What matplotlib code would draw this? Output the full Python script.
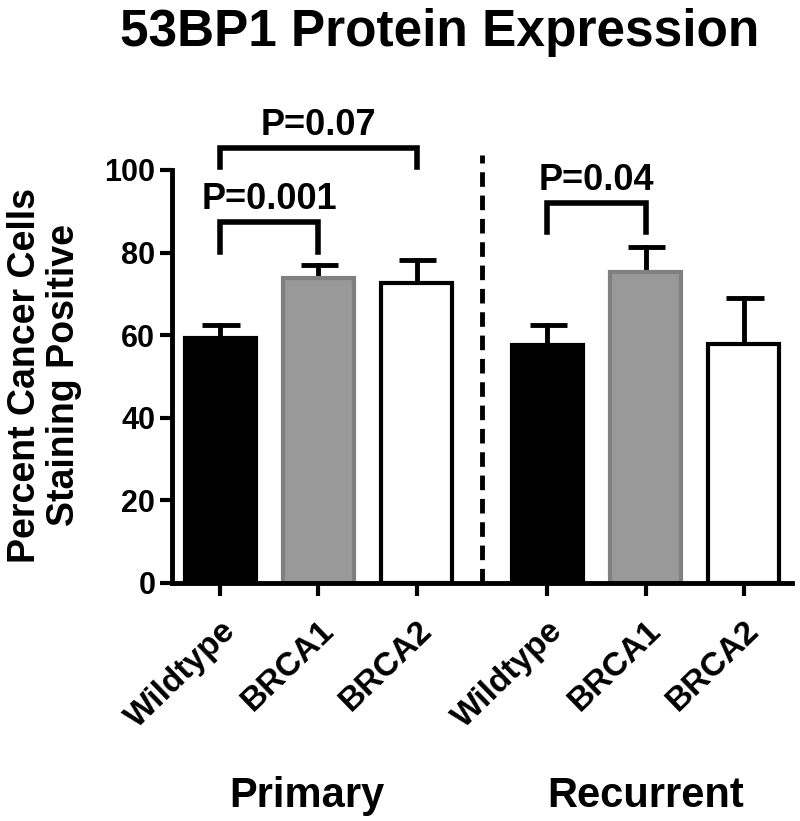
import matplotlib.pyplot as plt

plt.rcParams['font.family'] = ['Liberation Sans', 'DejaVu Sans']
plt.rcParams['font.weight'] = 'bold'

categories = ['Wildtype', 'BRCA1', 'BRCA2', 'Wildtype', 'BRCA1', 'BRCA2']
groups = ['Primary', 'Recurrent']
means = [59.4, 73.8, 72.6, 57.6, 75.4, 57.8]
errors = [3.1, 3.2, 5.6, 4.9, 6.0, 11.2]
fills = ['black', '#999999', 'white', 'black', '#999999', 'white']
edges = ['black', '#808080', 'black', 'black', '#808080', 'black']
x = [0, 1, 2, 3.33, 4.33, 5.33]

# significance brackets: (left bar, right bar, bracket height, leg bottom, label)
brackets = [(0, 1, 87.5, 80.2, 'P=0.001'),
            (0, 2, 105.3, 100.6, 'P=0.07'),
            (3, 4, 92.0, 85.0, 'P=0.04')]

fig = plt.figure(figsize=(8, 8.21), dpi=100)
ax = fig.add_axes([0.215, 0.29, 0.775, 0.503])

ax.bar(x, means, width=0.72, color=fills, edgecolor=edges, linewidth=3, zorder=2)
for xi, m, e in zip(x, means, errors):
    ax.plot([xi, xi], [m, m + e], color='black', lw=3.5, zorder=1)
    ax.plot([xi - 0.18, xi + 0.2], [m + e, m + e], color='black', lw=3.5,
            solid_capstyle='butt', zorder=1)

for i, j, h, lo, lab in brackets:
    ax.plot([x[i], x[i], x[j], x[j]], [lo, h, h, lo], color='black', lw=4,
            clip_on=False, solid_joinstyle='miter')
    ax.text((x[i] + x[j]) / 2, h + 1.2, lab, ha='center', va='bottom',
            fontsize=26, fontweight='bold')

ax.plot([2.66, 2.66], [0, 103.7], color='black', lw=3.5, ls=(0, (3, 1.8)),
        clip_on=False)

ax.set_xlim(-0.49, 5.82)
ax.set_ylim(0, 100)
ax.set_yticks([0, 20, 40, 60, 80, 100])
ax.set_xticks(x)
ax.set_xticklabels(categories, rotation=44, ha='right', rotation_mode='anchor',
                   fontsize=24)
ax.tick_params(axis='both', width=3, length=9)
ax.tick_params(axis='y', pad=3, labelsize=22)
ax.tick_params(axis='x', pad=14)
for s in ['top', 'right']:
    ax.spines[s].set_visible(False)
for s in ['left', 'bottom']:
    ax.spines[s].set_linewidth(3.5)

fig.text(0.056, 0.543, 'Percent Cancer Cells\nStaining Positive', rotation=90,
         ha='center', va='center', multialignment='center', fontsize=27,
         fontweight='bold', linespacing=1.1)
ax.text(0.88, -51.5, groups[0], ha='center', va='center', fontsize=30,
        fontweight='bold')
ax.text(4.33, -51.5, groups[1], ha='center', va='center', fontsize=30,
        fontweight='bold')

fig.suptitle('53BP1 Protein Expression', fontsize=37, fontweight='bold',
             x=0.55, y=0.99)

plt.savefig('out.png')
